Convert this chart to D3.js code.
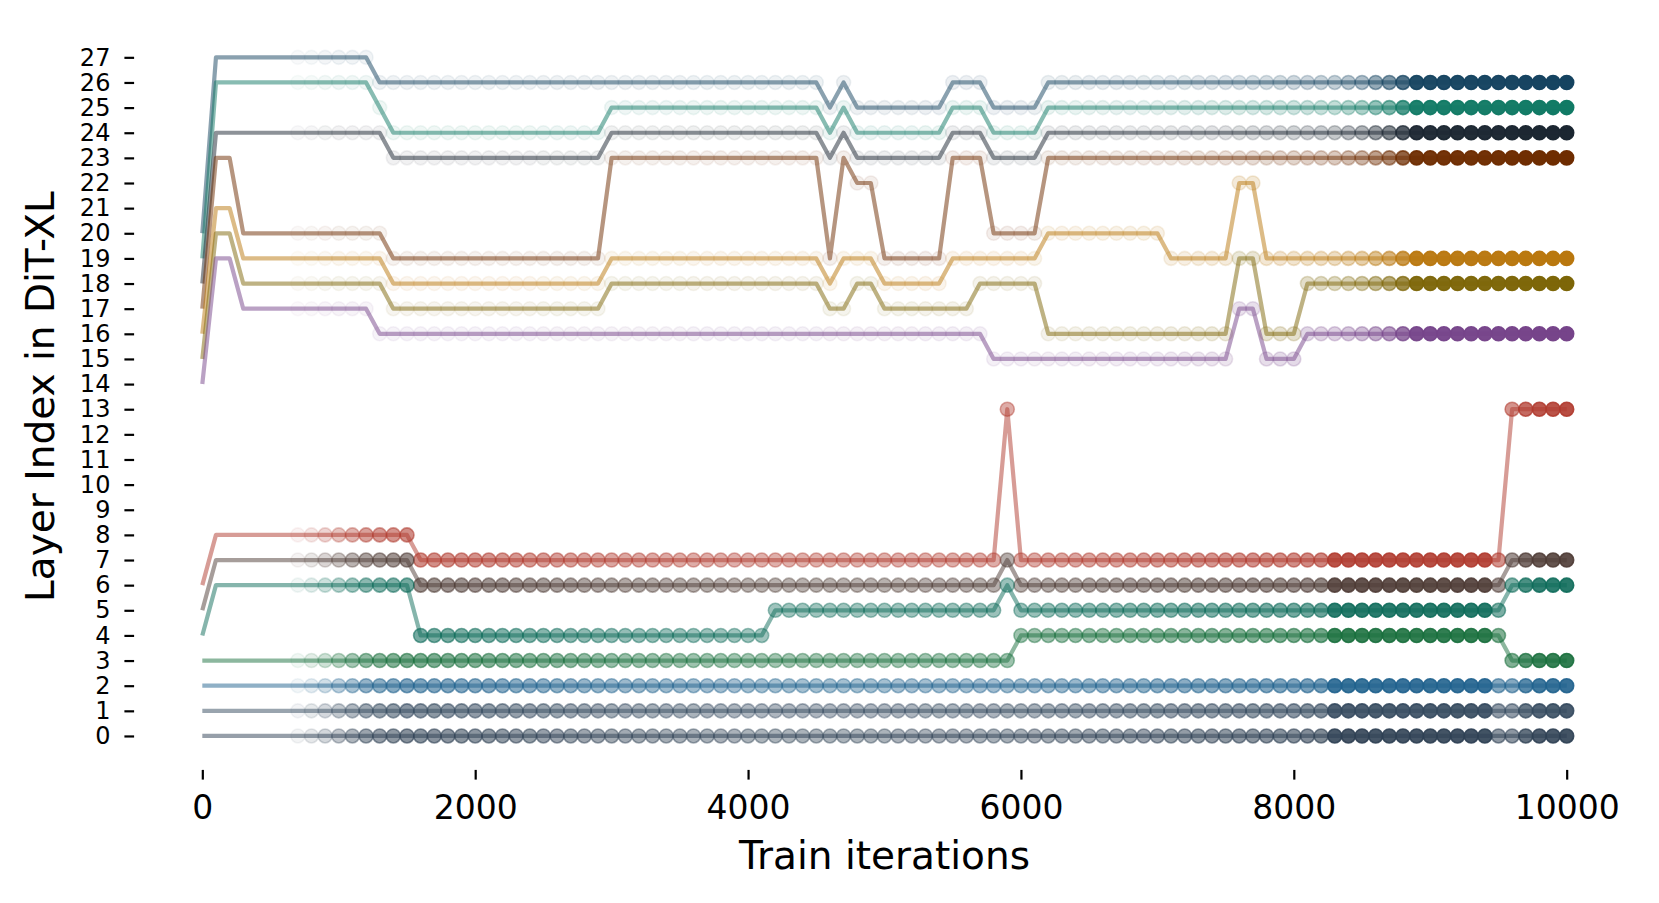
<!DOCTYPE html>
<html>
<head>
<meta charset="utf-8">
<script src="https://cdn.jsdelivr.net/npm/d3@7"></script>
<style>
  html, body { margin: 0; padding: 0; background: #ffffff; }
  svg { display: block; font-family: "DejaVu Sans", sans-serif; }
</style>
</head>
<body>
<svg id="chart" width="1659" height="903"></svg>
<script>
// ---------------- data ----------------
// iterations: 0, 100, ..., 10000 (101 points)
const iterations = d3.range(0, 10001, 100);

const xTicks = [0, 2000, 4000, 6000, 8000, 10000];
const yTicks = d3.range(0, 28);

const xLabel = "Train iterations";
const yLabel = "Layer Index in DiT-XL";

// upper group (layers 14..27)
const seriesA = [20,27,27,27,27,27,27,27,27,27, 27,27,27,26,26,26,26,26,26,26, 26,26,26,26,26,26,26,26,26,26, 26,26,26,26,26,26,26,26,26,26, 26,26,26,26,26,26,25,26,25,25, 25,25,25,25,25,26,26,26,25,25, 25,25,26,26,26,26,26,26,26,26, 26,26,26,26,26,26,26,26,26,26, 26,26,26,26,26,26,26,26,26,26, 26,26,26,26,26,26,26,26,26,26, 26];
const seriesB = [19,26,26,26,26,26,26,26,26,26, 26,26,26,25,24,24,24,24,24,24, 24,24,24,24,24,24,24,24,24,24, 25,25,25,25,25,25,25,25,25,25, 25,25,25,25,25,25,24,25,24,24, 24,24,24,24,24,25,25,25,24,24, 24,24,25,25,25,25,25,25,25,25, 25,25,25,25,25,25,25,25,25,25, 25,25,25,25,25,25,25,25,25,25, 25,25,25,25,25,25,25,25,25,25, 25];
const seriesC = [18,24,24,24,24,24,24,24,24,24, 24,24,24,24,23,23,23,23,23,23, 23,23,23,23,23,23,23,23,23,23, 24,24,24,24,24,24,24,24,24,24, 24,24,24,24,24,24,23,24,23,23, 23,23,23,23,23,24,24,24,23,23, 23,23,24,24,24,24,24,24,24,24, 24,24,24,24,24,24,24,24,24,24, 24,24,24,24,24,24,24,24,24,24, 24,24,24,24,24,24,24,24,24,24, 24];
const seriesD = [17,23,23,20,20,20,20,20,20,20, 20,20,20,20,19,19,19,19,19,19, 19,19,19,19,19,19,19,19,19,19, 23,23,23,23,23,23,23,23,23,23, 23,23,23,23,23,23,19,23,22,22, 19,19,19,19,19,23,23,23,20,20, 20,20,23,23,23,23,23,23,23,23, 23,23,23,23,23,23,23,23,23,23, 23,23,23,23,23,23,23,23,23,23, 23,23,23,23,23,23,23,23,23,23, 23];
const seriesE = [16,21,21,19,19,19,19,19,19,19, 19,19,19,19,18,18,18,18,18,18, 18,18,18,18,18,18,18,18,18,18, 19,19,19,19,19,19,19,19,19,19, 19,19,19,19,19,19,18,19,19,19, 18,18,18,18,18,19,19,19,19,19, 19,19,20,20,20,20,20,20,20,20, 20,19,19,19,19,19,22,22,19,19, 19,19,19,19,19,19,19,19,19,19, 19,19,19,19,19,19,19,19,19,19, 19];
const seriesF = [15,20,20,18,18,18,18,18,18,18, 18,18,18,18,17,17,17,17,17,17, 17,17,17,17,17,17,17,17,17,17, 18,18,18,18,18,18,18,18,18,18, 18,18,18,18,18,18,17,17,18,18, 17,17,17,17,17,17,17,18,18,18, 18,18,16,16,16,16,16,16,16,16, 16,16,16,16,16,16,19,19,16,16, 16,18,18,18,18,18,18,18,18,18, 18,18,18,18,18,18,18,18,18,18, 18];
const seriesG = [14,19,19,17,17,17,17,17,17,17, 17,17,17,16,16,16,16,16,16,16, 16,16,16,16,16,16,16,16,16,16, 16,16,16,16,16,16,16,16,16,16, 16,16,16,16,16,16,16,16,16,16, 16,16,16,16,16,16,16,16,15,15, 15,15,15,15,15,15,15,15,15,15, 15,15,15,15,15,15,17,17,15,15, 15,16,16,16,16,16,16,16,16,16, 16,16,16,16,16,16,16,16,16,16, 16];
// lower group (layers 0..13)
const seriesH = [6,8,8,8,8,8,8,8,8,8, 8,8,8,8,8,8,7,7,7,7, 7,7,7,7,7,7,7,7,7,7, 7,7,7,7,7,7,7,7,7,7, 7,7,7,7,7,7,7,7,7,7, 7,7,7,7,7,7,7,7,7,13, 7,7,7,7,7,7,7,7,7,7, 7,7,7,7,7,7,7,7,7,7, 7,7,7,7,7,7,7,7,7,7, 7,7,7,7,7,7,13,13,13,13, 13];
const seriesI = [5,7,7,7,7,7,7,7,7,7, 7,7,7,7,7,7,6,6,6,6, 6,6,6,6,6,6,6,6,6,6, 6,6,6,6,6,6,6,6,6,6, 6,6,6,6,6,6,6,6,6,6, 6,6,6,6,6,6,6,6,6,7, 6,6,6,6,6,6,6,6,6,6, 6,6,6,6,6,6,6,6,6,6, 6,6,6,6,6,6,6,6,6,6, 6,6,6,6,6,6,7,7,7,7, 7];
const seriesJ = [4,6,6,6,6,6,6,6,6,6, 6,6,6,6,6,6,4,4,4,4, 4,4,4,4,4,4,4,4,4,4, 4,4,4,4,4,4,4,4,4,4, 4,4,5,5,5,5,5,5,5,5, 5,5,5,5,5,5,5,5,5,6, 5,5,5,5,5,5,5,5,5,5, 5,5,5,5,5,5,5,5,5,5, 5,5,5,5,5,5,5,5,5,5, 5,5,5,5,5,5,6,6,6,6, 6];
const seriesK = [3,3,3,3,3,3,3,3,3,3, 3,3,3,3,3,3,3,3,3,3, 3,3,3,3,3,3,3,3,3,3, 3,3,3,3,3,3,3,3,3,3, 3,3,3,3,3,3,3,3,3,3, 3,3,3,3,3,3,3,3,3,3, 4,4,4,4,4,4,4,4,4,4, 4,4,4,4,4,4,4,4,4,4, 4,4,4,4,4,4,4,4,4,4, 4,4,4,4,4,4,3,3,3,3, 3];
const seriesL = [2,2,2,2,2,2,2,2,2,2, 2,2,2,2,2,2,2,2,2,2, 2,2,2,2,2,2,2,2,2,2, 2,2,2,2,2,2,2,2,2,2, 2,2,2,2,2,2,2,2,2,2, 2,2,2,2,2,2,2,2,2,2, 2,2,2,2,2,2,2,2,2,2, 2,2,2,2,2,2,2,2,2,2, 2,2,2,2,2,2,2,2,2,2, 2,2,2,2,2,2,2,2,2,2, 2];
const seriesM = [1,1,1,1,1,1,1,1,1,1, 1,1,1,1,1,1,1,1,1,1, 1,1,1,1,1,1,1,1,1,1, 1,1,1,1,1,1,1,1,1,1, 1,1,1,1,1,1,1,1,1,1, 1,1,1,1,1,1,1,1,1,1, 1,1,1,1,1,1,1,1,1,1, 1,1,1,1,1,1,1,1,1,1, 1,1,1,1,1,1,1,1,1,1, 1,1,1,1,1,1,1,1,1,1, 1];
const seriesN = [0,0,0,0,0,0,0,0,0,0, 0,0,0,0,0,0,0,0,0,0, 0,0,0,0,0,0,0,0,0,0, 0,0,0,0,0,0,0,0,0,0, 0,0,0,0,0,0,0,0,0,0, 0,0,0,0,0,0,0,0,0,0, 0,0,0,0,0,0,0,0,0,0, 0,0,0,0,0,0,0,0,0,0, 0,0,0,0,0,0,0,0,0,0, 0,0,0,0,0,0,0,0,0,0, 0];

const upperSeries = [seriesA, seriesB, seriesC, seriesD, seriesE, seriesF, seriesG];
const lowerSeries = [seriesH, seriesI, seriesJ, seriesK, seriesL, seriesM, seriesN];

const upperColors = ["#154360", "#117A65", "#1B2631", "#6E2C00", "#B9770E", "#7D6608", "#76448A"];
const lowerColors = ["#B03A2E", "#4E3B35", "#0E6B5A", "#196F3D", "#1F618D", "#34495E", "#2E4053"];

// marker opacity profile (style), per group
const upperAlphaAt = [0, 600, 700, 1000, 4000, 6000, 7000, 7500, 8000, 8300, 8500, 8700, 8800, 8900, 10000];
const upperAlphaVal = [0, 0, 0.03, 0.06, 0.07, 0.08, 0.1, 0.14, 0.2, 0.25, 0.35, 0.55, 0.75, 0.95, 1];
const lowerAlphaAt = [0, 600, 800, 1000, 1200, 1500, 2000, 3000, 4000, 5000, 6000, 7000, 8000, 8200, 8300, 9400, 9500, 9600, 9700, 9800, 10000];
const lowerAlphaVal = [0, 0, 0.12, 0.3, 0.48, 0.58, 0.55, 0.45, 0.4, 0.4, 0.42, 0.5, 0.58, 0.62, 0.88, 0.9, 0.55, 0.55, 0.75, 0.85, 0.9];

// ---------------- drawing ----------------
const svg = d3.select("#chart");
svg.append("rect").attr("width", 1659).attr("height", 903).attr("fill", "#ffffff");

const plot = { left: 134.1, right: 1634.9, top: 23.4, bottom: 769.9 };

const x = d3.scaleLinear().domain([-500, 10500]).range([plot.left, plot.right]);
const y = d3.scaleLinear().domain([-1.35, 28.35]).range([plot.bottom, plot.top]);

const upperAlpha = d3.scaleLinear().domain(upperAlphaAt).range(upperAlphaVal).clamp(true);
const lowerAlpha = d3.scaleLinear().domain(lowerAlphaAt).range(lowerAlphaVal).clamp(true);

const allSeries = [];
upperSeries.forEach((s, k) => allSeries.push({ values: s, color: upperColors[k], alpha: upperAlpha }));
lowerSeries.forEach((s, k) => allSeries.push({ values: s, color: lowerColors[k], alpha: lowerAlpha }));

// markers (below lines)
const markerLayer = svg.append("g");
allSeries.forEach(ser => {
  const pts = iterations.map((it, i) => ({ it, v: ser.values[i], a: ser.alpha(it) }));
  markerLayer.append("g")
    .selectAll("circle")
    .data(pts.filter(p => p.a > 0.001))
    .join("circle")
    .attr("cx", d => x(d.it))
    .attr("cy", d => y(d.v))
    .attr("r", 7)
    .attr("fill", ser.color)
    .attr("fill-opacity", d => d.a)
    .attr("stroke", ser.color)
    .attr("stroke-opacity", d => d.a)
    .attr("stroke-width", 1.6);
});

// lines
const line = d3.line().x((d, i) => x(iterations[i])).y(d => y(d));
const lineLayer = svg.append("g");
allSeries.forEach(ser => {
  lineLayer.append("path")
    .datum(ser.values)
    .attr("d", line)
    .attr("fill", "none")
    .attr("stroke", ser.color)
    .attr("stroke-opacity", 0.5)
    .attr("stroke-width", 4.2)
    .attr("stroke-linejoin", "round");
});

// axes
const yAxis = svg.append("g")
  .attr("transform", `translate(${plot.left},0)`)
  .call(d3.axisLeft(y).tickValues(yTicks).tickSize(9.7).tickPadding(14).tickFormat(d3.format("d")));
yAxis.select(".domain").remove();
yAxis.selectAll(".tick line").attr("stroke", "#000").attr("stroke-width", 2.2);
yAxis.selectAll(".tick text").attr("fill", "#000").style("font-size", "24px").style("font-family", "DejaVu Sans");

const xAxis = svg.append("g")
  .attr("transform", `translate(0,${plot.bottom})`)
  .call(d3.axisBottom(x).tickValues(xTicks).tickSize(9.7).tickPadding(16).tickFormat(d3.format("d")));
xAxis.select(".domain").remove();
xAxis.selectAll(".tick line").attr("stroke", "#000").attr("stroke-width", 2.2);
xAxis.selectAll(".tick text").attr("fill", "#000").style("font-size", "33px").style("font-family", "DejaVu Sans");

// axis labels
svg.append("text")
  .attr("x", (plot.left + plot.right) / 2)
  .attr("y", 869)
  .attr("text-anchor", "middle")
  .style("font-size", "39px")
  .attr("fill", "#000")
  .text(xLabel);

svg.append("text")
  .attr("transform", `translate(54,${(plot.top + plot.bottom) / 2}) rotate(-90)`)
  .attr("text-anchor", "middle")
  .style("font-size", "39px")
  .attr("fill", "#000")
  .text(yLabel);
</script>
</body>
</html>
